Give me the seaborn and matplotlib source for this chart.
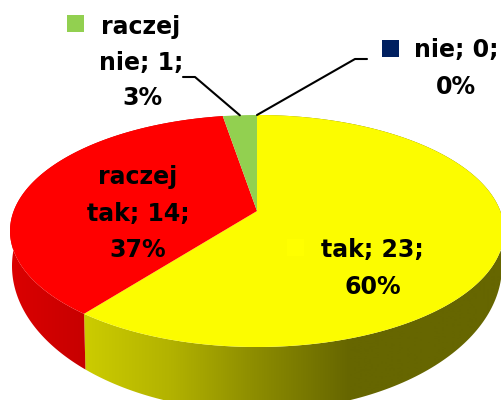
import numpy as np
import matplotlib
matplotlib.use('Agg')
import matplotlib.pyplot as plt
from matplotlib.patches import Polygon, Rectangle
import seaborn as sns

# dane wykresu
categories = ['tak', 'raczej tak', 'raczej nie', 'nie']
values = [23, 14, 1, 0]
percents = ['60%', '37%', '3%', '0%']
top_colors = ['#fcfc00', '#ff0000', '#92d050', '#002060']

sns.set_theme(style='white')
plt.rcParams['font.family'] = ['DejaVu Sans']

# geometria elipsy w pikselach
cx, cy, a, b = 257, 231, 247, 116
c = 20 / 116
low_cy, low_a, low_b = 266, 245, 145


def project(frac):
    # kat liczony od gory, zgodnie z zegarem, rzut perspektywiczny kola
    th = 2 * np.pi * np.asarray(frac)
    u, v = np.sin(th), np.cos(th)
    x = u * np.sqrt(1 - c**2) / (1 + c * v)
    y = (v + c) / (1 + c * v)
    return cx + a * x, cy - b * y


fig = plt.figure(figsize=(5.01, 4.0), dpi=100)
ax = fig.add_axes([0, 0, 1, 1])

fracs = np.array(values) / sum(values)
edges = np.concatenate([[0], np.cumsum(fracs)])

# boczne sciany z gradientem: tak i raczej tak
px = np.arange(0, 502)
yellow_x = [85, 170, 250, 350, 501]
yellow_v = [0.80, 0.70, 0.56, 0.40, 0.40]
red_x = [0, 85]
red_v = [0.87, 0.78]
yellow_ramp = np.interp(px, yellow_x, yellow_v)
red_ramp = np.interp(px, red_x, red_v)
ramps = [np.stack([yellow_ramp, yellow_ramp, 0 * px], axis=-1),
         np.stack([red_ramp, 0 * px, 0 * px], axis=-1)]

for i, grad in enumerate(ramps):
    xt, yt = project(np.linspace(edges[i], edges[i + 1], 200))
    xl = cx + low_a * (xt - cx) / a
    yl = low_cy - low_b * (cy - yt) / b
    poly = Polygon(np.column_stack([np.r_[xt, xl[::-1]], np.r_[yt, yl[::-1]]]),
                   closed=True, fc='none', ec='none')
    ax.add_patch(poly)
    im = ax.imshow(grad[None, :, :], extent=(0, 501, 420, 100), aspect='auto', zorder=1)
    im.set_clip_path(poly)

# gorna powierzchnia
apex_y = cy - b * c
for i, col in enumerate(top_colors):
    if values[i] == 0:
        continue
    xt, yt = project(np.linspace(edges[i], edges[i + 1], 200))
    ax.fill(np.r_[cx, xt], np.r_[apex_y, yt], color=col, lw=0, zorder=2)

# linie odniesienia
x_g, y_g = project(edges[2] + fracs[2] / 2)
ax.plot([183, 195, x_g], [77, 77, y_g], color='black', lw=1.5, zorder=3)
x_n, y_n = project(1.0)
ax.plot([367, 355, x_n], [59, 59, y_n], color='black', lw=1.5, zorder=3)

# klucze legendy
for x0, y0, col in [(67, 15, top_colors[2]), (382, 40, top_colors[3]), (287, 239, '#ffff00')]:
    ax.add_patch(Rectangle((x0, y0), 17, 17, fc=col, ec='none', zorder=3))

# etykiety
font = dict(fontsize=17, fontweight='bold', color='black', ha='center', va='center', zorder=4)
labels = [
    (141, 27, 'raczej'), (141, 63, f'nie; {values[2]};'), (142, 98, percents[2]),
    (456, 50, f'nie; {values[3]};'), (456, 87, percents[3]),
    (138, 177, 'raczej'), (138, 214, f'tak; {values[1]};'), (138, 250, percents[1]),
    (372, 250, f'tak; {values[0]};'), (373, 287, percents[0]),
]
for x, y, s in labels:
    ax.text(x, y, s, **font)

ax.set_xlim(0, 501)
ax.set_ylim(400, 0)
ax.axis('off')

fig.savefig('out.png', dpi=100)
